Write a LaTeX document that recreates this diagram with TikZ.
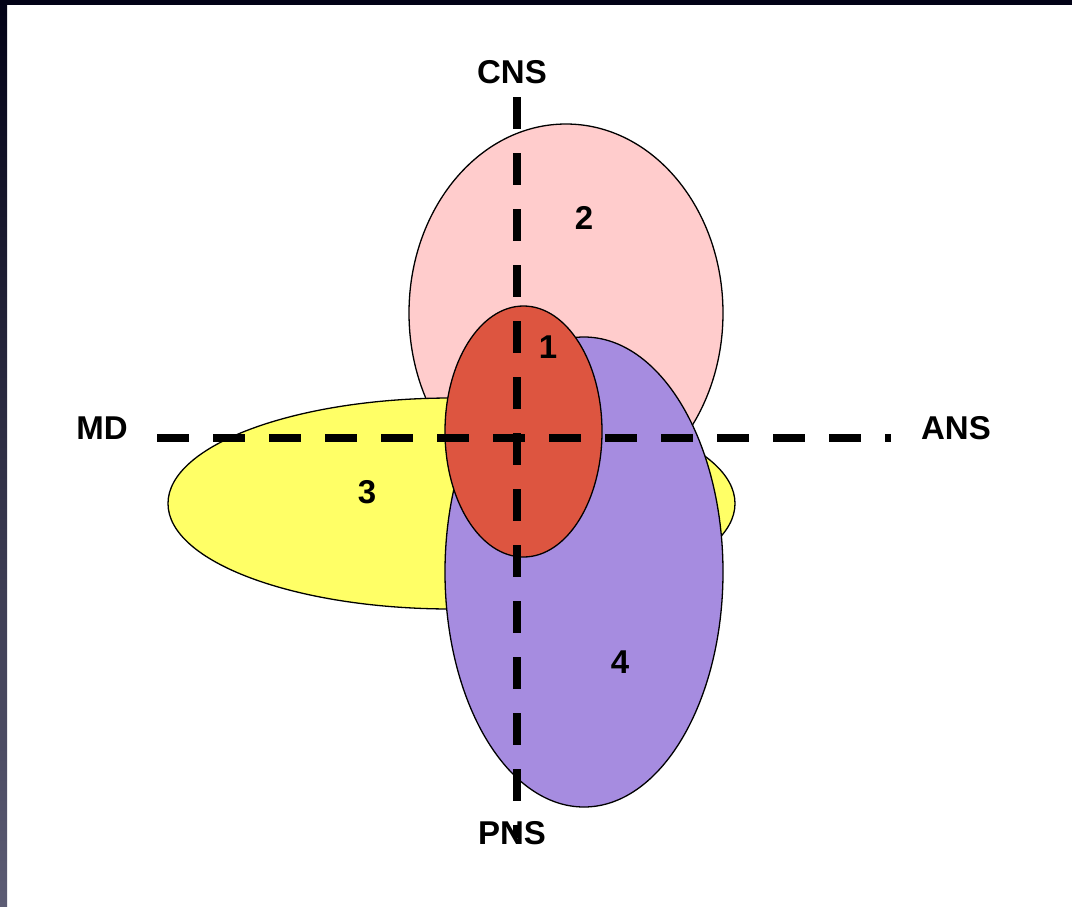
\documentclass[tikz,border=0pt]{standalone}
\usepackage{fontspec}
\setmainfont{Liberation Sans}
\usetikzlibrary{shapes.geometric}
\definecolor{pinkfill}{RGB}{255,204,204}
\definecolor{yellowfill}{RGB}{255,255,102}
\definecolor{purplefill}{RGB}{166,140,224}
\definecolor{redfill}{RGB}{221,85,64}
\definecolor{bordertop}{RGB}{2,2,22}
\definecolor{borderbot}{RGB}{92,92,116}
\tikzset{
  blob/.style={ellipse, draw=black, line width=1.3pt, inner sep=0pt},
  lbl/.style={font=\fontsize{33}{33}\selectfont\bfseries, inner sep=0pt},
  axis/.style={line width=8pt, dash pattern=on 32pt off 24pt}
}
\begin{document}
\begin{tikzpicture}[x=1pt,y=-1pt]
\useasboundingbox (0,0) rectangle (1072,906);
\fill[white] (0,0) rectangle (1072,906);
\shade[top color=bordertop, bottom color=borderbot] (0,0) rectangle (7,906);
\fill[bordertop] (0,0) rectangle (1072,5);
% ellipses
\node[blob, fill=pinkfill, minimum width=314pt, minimum height=378pt] (e2) at (566,313) {};
\node[blob, fill=yellowfill, minimum width=567pt, minimum height=211pt] (e3) at (451.5,503.5) {};
\node[blob, fill=purplefill, minimum width=278pt, minimum height=470pt] (e4) at (584,572) {};
\node[blob, fill=redfill, minimum width=157pt, minimum height=251pt] (e1) at (523.5,431.5) {};
% numbers
\node[lbl] (n2) at (584,218) {2};
\node[lbl] (n1) at (548,347) {1};
\node[lbl] (n3) at (367,492) {3};
\node[lbl] (n4) at (620,662) {4};
% axes
\coordinate (vtop) at (517,97);
\coordinate (vbot) at (517,838);
\coordinate (hl) at (157,438);
\coordinate (hr) at (891,438);
\draw[axis] (vtop) -- (vbot);
\draw[axis] (hl) -- (hr);
% labels
\node[lbl] (cns) at (512,72) {CNS};
\node[lbl] (pns) at (512,833) {PNS};
\node[lbl] (md) at (102,428) {MD};
\node[lbl] (ans) at (956,428) {ANS};
\end{tikzpicture}
\end{document}
